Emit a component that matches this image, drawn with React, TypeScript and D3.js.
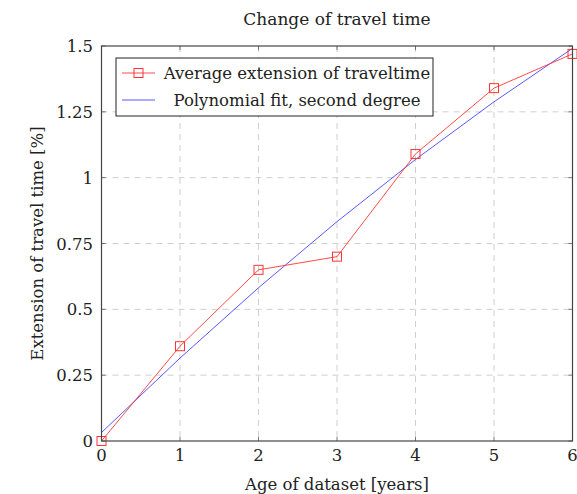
import React from "react";
import * as d3 from "d3";

const title = "Change of travel time";
const xLabel = "Age of dataset [years]";
const yLabel = "Extension of travel time [%]";
const ages = [0, 1, 2, 3, 4, 5, 6];
const avgExtension = [0, 0.36, 0.65, 0.70, 1.09, 1.34, 1.47];
const fitValues = [0.032, 0.315, 0.582, 0.833, 1.069, 1.288, 1.491];
const xTicks = [0, 1, 2, 3, 4, 5, 6];
const yTicks = [0, 0.25, 0.5, 0.75, 1, 1.25, 1.5];
const yTickLabels = ["0", "0.25", "0.5", "0.75", "1", "1.25", "1.5"];
const legendLabels = ["Average extension of traveltime", "Polynomial fit, second degree"];

const W = 577;
const H = 494;
const FONT = "DejaVu Serif";
const RED = "#ff3535";
const BLUE = "#4545ff";

export default function App() {
  const left = 101.5, right = 572.5, top = 46, bottom = 441;
  const x = d3.scaleLinear().domain([0, 6]).range([left, right]);
  const y = d3.scaleLinear().domain([0, 1.5]).range([bottom, top]);

  const redData = ages.map((a, i) => [a, avgExtension[i]] as [number, number]);
  const blueData = ages.map((a, i) => [a, fitValues[i]] as [number, number]);
  const lineStraight = d3.line<[number, number]>().x(d => x(d[0])).y(d => y(d[1]));

  const ms = 9;
  const fs = 16.5;

  const lgX = 116, lgY = 58, lgW = 317, lgH = 58;
  const textCx = 297;

  return (
    <svg width={W} height={H} style={{ position: "absolute", left: 0, top: 0, fontFamily: FONT }}>
      <rect width={W} height={H} fill="#fff" />
      {xTicks.slice(1, -1).map(t => (
        <line key={"gx" + t} x1={x(t)} x2={x(t)} y1={top} y2={bottom} stroke="#cfcfcf" strokeWidth={1} strokeDasharray="6 5" />
      ))}
      {yTicks.slice(1, -1).map(t => (
        <line key={"gy" + t} x1={left} x2={right} y1={y(t)} y2={y(t)} stroke="#cfcfcf" strokeWidth={1} strokeDasharray="6 5" />
      ))}
      {xTicks.map(t => (
        <g key={"tx" + t}>
          <line x1={x(t)} x2={x(t)} y1={bottom} y2={bottom - 4} stroke="#555" strokeWidth={0.8} />
          <line x1={x(t)} x2={x(t)} y1={top} y2={top + 4} stroke="#555" strokeWidth={0.8} />
          <text x={x(t)} y={461} textAnchor="middle" fontSize={fs} fill="#222">{t}</text>
        </g>
      ))}
      {yTicks.map((t, i) => (
        <g key={"ty" + t}>
          <line x1={left} x2={left + 4} y1={y(t)} y2={y(t)} stroke="#555" strokeWidth={0.8} />
          <line x1={right} x2={right - 4} y1={y(t)} y2={y(t)} stroke="#555" strokeWidth={0.8} />
          <text x={93} y={y(t) + 6} textAnchor="end" fontSize={fs} fill="#222">{yTickLabels[i]}</text>
        </g>
      ))}
      <path d={lineStraight(blueData) || ""} fill="none" stroke={BLUE} strokeWidth={0.9} />
      <path d={lineStraight(redData) || ""} fill="none" stroke={RED} strokeWidth={0.9} />
      {redData.map((d, i) => (
        <rect key={"m" + i} x={x(d[0]) - ms / 2} y={y(d[1]) - ms / 2} width={ms} height={ms} fill="none" stroke={RED} strokeWidth={1} />
      ))}
      <rect x={left} y={top} width={right - left} height={bottom - top} fill="none" stroke="#444" strokeWidth={1.2} />
      <rect x={lgX} y={lgY} width={lgW} height={lgH} fill="#fff" stroke="#222" strokeWidth={1} />
      <line x1={122} x2={155} y1={73} y2={73} stroke={RED} strokeWidth={0.9} />
      <rect x={138.5 - ms / 2} y={73 - ms / 2} width={ms} height={ms} fill="none" stroke={RED} strokeWidth={1} />
      <text x={textCx} y={79} textAnchor="middle" fontSize={fs} fill="#222">{legendLabels[0]}</text>
      <line x1={122} x2={155} y1={100} y2={100} stroke={BLUE} strokeWidth={0.9} />
      <text x={textCx} y={106} textAnchor="middle" fontSize={fs} fill="#222">{legendLabels[1]}</text>
      <text x={(left + right) / 2} y={25} textAnchor="middle" fontSize={17} fill="#222">{title}</text>
      <text x={(left + right) / 2} y={490} textAnchor="middle" fontSize={fs} fill="#222">{xLabel}</text>
      <text transform={`translate(43,${(top + bottom) / 2}) rotate(-90)`} textAnchor="middle" fontSize={fs} fill="#222">{yLabel}</text>
    </svg>
  );
}
